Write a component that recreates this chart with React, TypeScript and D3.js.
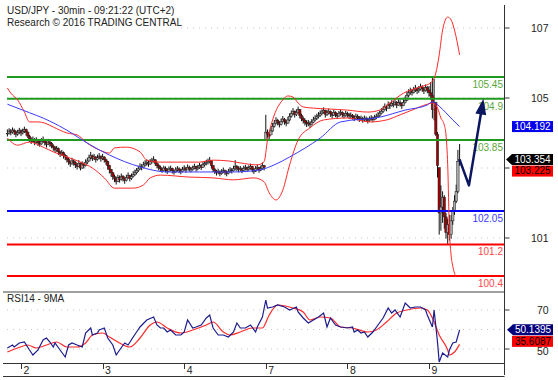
import React from 'react';
import * as d3 from 'd3';

// ---------- DATA ----------
const titleLines = ['USD/JPY - 30min - 09:21:22 (UTC+2)', 'Research \u00a9 2016 TRADING CENTRAL'];
const rsiTitle = 'RSI14 - 9MA';

const dayLabels = ['2', '3', '4', '7', '8', '9'];
const dayStartIdx = [8, 56, 104, 152, 200, 248];

// 30-min bars
const closes = [
  104.02, 104.08, 104.05, 104.10, 104.06, 104.00, 104.04, 104.09, 104.03, 104.07, 104.12, 104.05,
  103.95, 103.88, 103.82, 103.86, 103.80,
  103.84, 103.78, 103.75, 103.82, 103.86, 103.79, 103.74, 103.80, 103.76,
  103.70, 103.66, 103.60, 103.63, 103.55, 103.50, 103.53, 103.46, 103.42,
  103.36, 103.30, 103.25, 103.32, 103.28, 103.22, 103.18, 103.26, 103.14, 103.24, 103.20, 103.28,
  103.32, 103.40, 103.45, 103.38, 103.42, 103.36, 103.40, 103.44, 103.38, 103.42, 103.35, 103.30,
  103.20, 103.10, 103.02, 102.92, 102.88, 102.80,
  102.90, 102.85, 102.93, 102.88, 102.82, 102.90, 102.95, 102.88, 102.93, 102.98, 103.02,
  103.08, 103.12, 103.18, 103.15, 103.22, 103.26,
  103.28, 103.24, 103.30, 103.32, 103.35, 103.26, 103.20, 103.16,
  103.12, 103.08, 103.14, 103.10, 103.06, 103.11, 103.13, 103.07, 103.04, 103.09, 103.12, 103.08, 103.05, 103.10, 103.14, 103.09, 103.16, 103.12,
  103.10, 103.14, 103.18, 103.12, 103.15, 103.20, 103.16, 103.22, 103.25, 103.28, 103.30, 103.33, 103.20,
  103.10, 103.06, 103.02, 103.05, 103.00, 103.04, 103.08, 103.03, 103.00, 103.05, 103.09, 103.07, 103.12, 103.18, 103.14,
  103.10, 103.12, 103.08, 103.13, 103.15, 103.11, 103.14, 103.18, 103.10, 103.06, 103.12, 103.16, 103.09, 103.13, 103.20, 103.16,
  104.05, 104.00, 103.95, 104.08,
  104.20, 104.28, 104.35, 104.30, 104.25, 104.32, 104.38, 104.33, 104.28, 104.36,
  104.45, 104.52, 104.58, 104.50, 104.55, 104.62,
  104.48, 104.40, 104.35, 104.30, 104.26, 104.28, 104.24, 104.30, 104.36, 104.40, 104.44, 104.48,
  104.52, 104.56, 104.60, 104.50, 104.54, 104.58, 104.52, 104.48, 104.55, 104.50, 104.46, 104.52, 104.55, 104.50, 104.47, 104.52,
  104.50, 104.46, 104.48, 104.44, 104.40, 104.45, 104.42, 104.38, 104.40, 104.36, 104.40, 104.38, 104.34, 104.38, 104.41, 104.37, 104.42, 104.45, 104.48,
  104.52, 104.58, 104.62, 104.70, 104.66, 104.75, 104.72, 104.78, 104.76, 104.80,
  104.74, 104.80, 104.78, 104.72, 104.80, 104.86,
  104.98, 105.05, 105.10, 105.06, 105.12, 105.16, 105.10, 105.14, 105.20, 105.15, 105.10, 105.18, 105.12,
  105.05, 104.98, 104.62, 104.80, 104.00, 103.20, 102.00, 102.15, 102.40, 101.90, 101.50, 101.70, 101.45, 101.80, 102.05, 102.30, 102.55, 103.30, 103.354,
];
const highs = [
  104.12, 104.15, 104.13, 104.17, 104.14, 104.09, 104.11, 104.16, 104.12, 104.14, 104.19, 104.14,
  104.07, 103.98, 103.92, 103.94, 103.90,
  103.92, 103.88, 103.83, 103.90, 103.94, 103.88, 103.82, 103.88, 103.84,
  103.80, 103.74, 103.70, 103.70, 103.66, 103.58, 103.60, 103.56, 103.50,
  103.46, 103.40, 103.33, 103.40, 103.36, 103.31, 103.26, 103.34, 103.28, 103.31, 103.28, 103.36,
  103.40, 103.48, 103.55, 103.48, 103.50, 103.44, 103.48, 103.52, 103.46, 103.50, 103.44, 103.38,
  103.32, 103.22, 103.12, 103.04, 102.97, 102.92,
  102.97, 102.95, 103.00, 102.96, 102.90, 102.97, 103.03, 102.97, 103.00, 103.06, 103.10,
  103.14, 103.20, 103.26, 103.24, 103.30, 103.34,
  103.36, 103.33, 103.37, 103.40, 103.44, 103.36, 103.30, 103.24,
  103.20, 103.15, 103.20, 103.18, 103.14, 103.18, 103.20, 103.15, 103.10, 103.16, 103.19, 103.16, 103.12, 103.17, 103.21, 103.17, 103.23, 103.20,
  103.17, 103.20, 103.25, 103.20, 103.22, 103.27, 103.24, 103.29, 103.32, 103.35, 103.38, 103.42, 103.34,
  103.22, 103.14, 103.09, 103.12, 103.08, 103.11, 103.15, 103.10, 103.07, 103.12, 103.16, 103.14, 103.20, 103.34, 103.22,
  103.18, 103.19, 103.15, 103.20, 103.22, 103.18, 103.21, 103.25, 103.20, 103.14, 103.19, 103.23, 103.17, 103.20, 103.28, 103.22,
  104.49, 104.12, 104.05, 104.17,
  104.28, 104.36, 104.43, 104.39, 104.33, 104.40, 104.46, 104.41, 104.36, 104.44,
  104.53, 104.60, 104.66, 104.60, 104.63, 104.70,
  104.64, 104.52, 104.45, 104.40, 104.35, 104.36, 104.33, 104.38, 104.44, 104.48, 104.52, 104.56,
  104.60, 104.63, 104.68, 104.62, 104.61, 104.65, 104.60, 104.56, 104.62, 104.58, 104.54, 104.59, 104.62, 104.58, 104.54, 104.59,
  104.57, 104.54, 104.55, 104.51, 104.48, 104.52, 104.50, 104.46, 104.47, 104.44, 104.47, 104.45, 104.42, 104.45, 104.48, 104.45, 104.49, 104.52, 104.56,
  104.60, 104.66, 104.70, 104.78, 104.74, 104.83, 104.80, 104.86, 104.84, 104.88,
  104.84, 104.88, 104.86, 104.80, 104.88, 104.96,
  105.08, 105.14, 105.18, 105.15, 105.20, 105.25, 105.19, 105.22, 105.28, 105.24, 105.18, 105.26, 105.22,
  105.22, 105.32, 105.45, 105.40, 104.82, 104.05, 103.15, 102.70, 102.55, 102.45, 102.00, 101.85, 101.95, 101.95, 102.15, 102.45, 102.72, 103.60, 103.75,
];
const lows = [
  103.94, 103.99, 103.97, 104.01, 103.98, 103.92, 103.96, 104.00, 103.95, 103.99, 104.03, 103.96,
  103.90, 103.80, 103.75, 103.78, 103.72,
  103.76, 103.70, 103.68, 103.73, 103.78, 103.71, 103.66, 103.72, 103.68,
  103.64, 103.58, 103.52, 103.55, 103.47, 103.42, 103.45, 103.38, 103.34,
  103.28, 103.22, 103.17, 103.22, 103.20, 103.14, 103.10, 103.16, 103.08, 103.12, 103.13, 103.18,
  103.24, 103.30, 103.36, 103.32, 103.34, 103.28, 103.33, 103.36, 103.30, 103.34, 103.28, 103.22,
  103.10, 103.00, 102.92, 102.84, 102.78, 102.72,
  102.78, 102.77, 102.82, 102.80, 102.74, 102.80, 102.87, 102.80, 102.84, 102.90, 102.94,
  102.98, 103.04, 103.09, 103.08, 103.13, 103.18,
  103.20, 103.17, 103.22, 103.25, 103.28, 103.19, 103.13, 103.08,
  103.05, 103.02, 103.06, 103.03, 102.99, 103.04, 103.06, 103.00, 102.97, 103.02, 103.05, 103.01, 102.98, 103.03, 103.07, 103.02, 103.09, 103.05,
  103.03, 103.07, 103.11, 103.05, 103.08, 103.12, 103.09, 103.14, 103.18, 103.21, 103.23, 103.26, 103.13,
  103.04, 102.99, 102.95, 102.98, 102.93, 102.97, 103.01, 102.96, 102.93, 102.98, 103.02, 103.00, 103.05, 103.08, 103.06,
  103.03, 103.05, 103.01, 103.06, 103.08, 103.04, 103.07, 103.10, 103.03, 102.99, 103.04, 103.09, 103.02, 103.06, 103.10, 103.08,
  103.85, 103.90, 103.86, 103.98,
  104.06, 104.17, 104.25, 104.22, 104.17, 104.22, 104.29, 104.24, 104.20, 104.26,
  104.33, 104.42, 104.48, 104.42, 104.46, 104.52,
  104.40, 104.33, 104.27, 104.22, 104.18, 104.20, 104.16, 104.22, 104.28, 104.32, 104.36, 104.40,
  104.44, 104.48, 104.52, 104.42, 104.46, 104.50, 104.44, 104.40, 104.46, 104.43, 104.39, 104.44, 104.47, 104.42, 104.40, 104.44,
  104.42, 104.39, 104.40, 104.37, 104.33, 104.37, 104.35, 104.31, 104.33, 104.29, 104.33, 104.31, 104.27, 104.31, 104.34, 104.30, 104.35, 104.38, 104.41,
  104.44, 104.50, 104.54, 104.60, 104.58, 104.65, 104.64, 104.70, 104.68, 104.72,
  104.66, 104.72, 104.70, 104.64, 104.71, 104.78,
  104.84, 104.94, 105.00, 104.98, 105.03, 105.07, 105.02, 105.05, 105.11, 105.07, 105.02, 105.08, 105.04,
  104.95, 104.88, 104.40, 104.35, 103.95, 102.90, 101.45, 101.55, 101.75, 101.60, 101.35, 101.20, 101.30, 101.35, 101.70, 101.95, 102.25, 102.50, 103.20,
];

// Bollinger bands and 50-bar moving average, [bar index, price]
const bbUpper: [number, number][] = [
  [0, 105.17], [2, 105.04], [6, 104.87], [10, 104.56], [13, 104.31], [18, 104.31], [22, 104.28], [27, 104.18],
  [35, 104.03], [41, 103.98], [47, 103.77], [54, 103.60], [60, 103.52], [63, 103.65], [70, 103.67], [78, 103.55],
  [82, 103.34], [90, 103.29], [100, 103.29], [113, 103.29], [121, 103.34], [130, 103.32], [137, 103.27], [147, 103.22],
  [151, 103.30], [153, 103.85], [156, 104.36], [162, 104.87], [165, 104.97], [168, 104.94], [171, 104.79], [174, 104.69],
  [180, 104.66], [188, 104.64], [200, 104.61], [212, 104.56], [219, 104.61], [225, 104.79], [233, 105.04], [243, 105.20],
  [249, 105.30], [252, 105.55], [254, 106.01], [256, 106.64], [259, 106.97], [261, 106.90], [263, 106.64], [266, 106.01],
];
const bbLower: [number, number][] = [
  [0, 103.90], [6, 103.72], [13, 103.80], [21, 103.67], [27, 103.55], [35, 103.42], [43, 103.29], [50, 103.14],
  [57, 102.89], [63, 102.63], [74, 102.63], [80, 102.71], [84, 102.89], [90, 102.96], [107, 102.91], [121, 102.89],
  [133, 102.84], [145, 102.89], [151, 102.79], [154, 102.51], [158, 102.33], [162, 102.58], [166, 103.22], [171, 103.85],
  [178, 104.16], [186, 104.36], [200, 104.41], [213, 104.31], [223, 104.36], [231, 104.49], [238, 104.61], [247, 104.76],
  [250, 104.79], [253, 104.66], [255, 104.41], [257, 104.23], [258, 103.98], [259, 103.22], [260, 101.57], [261, 100.93],
  [262, 100.65], [263, 100.47], [264, 100.37],
];
const ma50: [number, number][] = [
  [0, 104.76], [9, 104.61], [25, 104.33], [35, 104.10], [43, 103.88], [54, 103.60], [60, 103.47], [78, 103.17],
  [94, 103.04], [113, 103.04], [133, 103.04], [148, 103.09], [158, 103.24], [166, 103.42], [184, 103.90], [196, 104.31],
  [219, 104.43], [234, 104.61], [247, 104.74], [250, 104.82], [254, 104.71], [258, 104.54], [262, 104.36], [266, 104.192],
];

// RSI(14) and its 9-period MA, [bar index, value]
const rsi14: [number, number][] = [
  [0, 32], [3, 35], [4, 33], [7, 37], [10, 38], [13, 30], [15, 25], [18, 30], [21, 40], [23, 42], [25, 38], [27, 33],
  [28, 37], [31, 30], [34, 23], [36, 35], [38, 37], [41, 35], [44, 33], [46, 47], [49, 52], [50, 45], [53, 47], [54, 50],
  [57, 52], [59, 42], [62, 35], [64, 25], [66, 30], [69, 37], [71, 35], [74, 43], [76, 48], [78, 53], [82, 60], [86, 63],
  [88, 55], [90, 52], [92, 52], [94, 48], [96, 50], [99, 45], [102, 45], [104, 48], [106, 60], [109, 52], [111, 53], [114, 55],
  [117, 62], [119, 65], [121, 52], [124, 45], [127, 45], [130, 43], [133, 48], [135, 57], [137, 52], [140, 52], [143, 55],
  [146, 48], [147, 53], [150, 63], [152, 80], [153, 72], [156, 73], [159, 75], [163, 73], [166, 70], [170, 73], [171, 68],
  [174, 62], [177, 57], [180, 60], [183, 63], [186, 67], [188, 53], [190, 62], [193, 55], [196, 53], [200, 52], [203, 53],
  [204, 48], [206, 50], [208, 47], [210, 48], [212, 43], [215, 48], [218, 55], [221, 62], [224, 72], [226, 67], [228, 70],
  [231, 63], [234, 77], [237, 72], [240, 73], [243, 73], [246, 70], [247, 65], [250, 53], [251, 70], [253, 38], [254, 18],
  [256, 27], [259, 23], [260, 30], [262, 37], [264, 38], [266, 50.1395],
];
const rsiMa9: [number, number][] = [
  [0, 28], [6, 32], [12, 35], [17, 32], [23, 35], [29, 38], [35, 33], [41, 33], [46, 37], [50, 45], [56, 47], [60, 43],
  [66, 37], [72, 33], [78, 42], [84, 55], [88, 58], [94, 52], [102, 47], [109, 50], [117, 55], [121, 58], [127, 48],
  [131, 45], [137, 48], [144, 52], [150, 52], [154, 65], [159, 75], [168, 72], [174, 68], [178, 60], [184, 63], [190, 62],
  [196, 53], [203, 52], [212, 48], [217, 50], [223, 58], [229, 67], [235, 70], [243, 72], [247, 70], [250, 62], [254, 45],
  [259, 30], [260, 25], [263, 28], [266, 35.6087],
];

// Key levels
const levelValues = [105.45, 104.9, 103.85, 102.05, 101.2, 100.4];
const levelLabels = ['105.45', '104.9', '103.85', '102.05', '101.2', '100.4'];
const levelKinds = ['res', 'res', 'res', 'pivot', 'sup', 'sup'];

// Scenario arrow [bar index, price]
const arrowPath: [number, number][] = [[266, 103.354], [271.5, 102.7], [280, 104.9]];

// Axis ticks
const priceTicks = [101, 103, 105, 107];
const rsiTicks = [50, 70];
const rsiGrid = [50, 60, 70];

// Value tags
const priceTagValues = [104.192, 103.354, 103.225];
const priceTagLabels = ['104.192', '103.354', '103.225'];
const rsiTagValues = [50.1395, 35.6087];
const rsiTagLabels = ['50.1395', '35.6087'];

// ---------- CHART ----------
const FONT = '"Liberation Sans", Arial, sans-serif';

const levelLine: Record<string, string> = { res: '#1f9a1f', pivot: '#0000ff', sup: '#ff0000' };
const levelText: Record<string, string> = { res: '#5aa83c', pivot: '#3c3cff', sup: '#ff4848' };

export default function App() {
  const W = 558, H = 380;
  const plotL = 7, axisX = 504.5;

  const x = d3.scaleLinear().domain([0, 266]).range([7.4, 459.6]);
  const y = d3.scaleLinear().domain([100.4, 105.45]).range([276, 77]);
  const yAxis = d3.scaleLinear().domain([101, 107]).range([238, 28]);
  const yR = d3.scaleLinear().domain([20, 70]).range([360, 310]);
  const yRAxis = d3.scaleLinear().domain([50, 70]).range([349, 310]);

  const curveLine = d3.line<[number, number]>().x(d => x(d[0])).y(d => y(d[1])).curve(d3.curveMonotoneX);
  const rsiLine = d3.line<[number, number]>().x(d => x(d[0])).y(d => yR(d[1]));
  const rsiMaLine = d3.line<[number, number]>().x(d => x(d[0])).y(d => yR(d[1])).curve(d3.curveMonotoneX);
  const pixLine = d3.line<[number, number]>();

  // arrow head geometry
  const n = arrowPath.length;
  const tipX = x(arrowPath[n - 1][0]), tipY = y(arrowPath[n - 1][1]);
  const prvX = x(arrowPath[n - 2][0]), prvY = y(arrowPath[n - 2][1]);
  const len = Math.hypot(tipX - prvX, tipY - prvY);
  const ux = (tipX - prvX) / len, uy = (tipY - prvY) / len;
  const headL = 16, headW = 5.5;
  const bx = tipX - ux * headL, by = tipY - uy * headL;
  const shaftPts: [number, number][] = arrowPath.slice(0, n - 1).map(d => [x(d[0]), y(d[1])] as [number, number]);
  shaftPts.push([bx + ux * 2, by + uy * 2]);
  const head = `M${tipX},${tipY}L${bx - uy * headW},${by + ux * headW}L${bx + uy * headW},${by - ux * headW}Z`;

  // tags
  const tagH = 11;
  const stackOverlap = (vals: number[], sc: (v: number) => number) => {
    let prevBottom = -Infinity;
    return vals.map(v => {
      let top = sc(v) - tagH / 2;
      if (top < prevBottom) top = prevBottom + 0.5;
      prevBottom = top + tagH;
      return top;
    });
  };
  const stackTight = (vals: number[], sc: (v: number) => number) => {
    const first = sc(vals[0]) - tagH / 2;
    return vals.map((_, i) => first + i * (tagH + 0.5));
  };
  const priceTagTops = stackOverlap(priceTagValues, y);
  const rsiTagTops = stackTight(rsiTagValues, yR);

  // axis labels hidden where the tags cover them (as in the reference)
  const priceLabelVisible = (t: number) =>
    priceTagTops.every(top => yAxis(t) + 4 < top || yAxis(t) - 4 > top + tagH);
  const rsiBottom = rsiTagTops[rsiTagTops.length - 1] + tagH;
  const rsiLabelY = (t: number) => {
    const base = yRAxis(t) + 3.5;
    const coveredTop = rsiTagTops.some(top => base > top && base - 8 < top + tagH);
    return coveredTop ? rsiBottom + 8.5 : base;
  };

  const bw = 2.4;

  return (
    <svg width={W} height={H} style={{ position: 'absolute', left: 0, top: 0, background: '#fff' }} fontFamily={FONT}>
      <rect x={0} y={0} width={W} height={H} fill="#fff" />

      {/* price grid */}
      {priceTicks.map(t => (
        <line key={'g' + t} x1={plotL} x2={axisX} y1={yAxis(t)} y2={yAxis(t)} stroke="#c4c4c4" strokeDasharray="1 5" />
      ))}

      {/* candles */}
      {closes.map((c, i) => {
        const hi = Math.max(highs[i], c);
        const lo = Math.min(lows[i], c);
        const prev = i === 0 ? c : closes[i - 1];
        const o = Math.min(Math.max(prev, lo), hi);
        const cx = x(i);
        const up = c >= o;
        const top = y(Math.max(o, c)), bot = y(Math.min(o, c));
        return (
          <g key={'c' + i}>
            <line x1={cx} x2={cx} y1={y(hi)} y2={y(lo)} stroke="#111" strokeWidth={1} />
            <rect x={cx - bw / 2} y={top} width={bw} height={Math.max(bot - top, 0.6)}
              fill={up ? '#a8a8a8' : '#a00000'} stroke="#222" strokeWidth={0.5} />
          </g>
        );
      })}

      {/* key levels */}
      {levelValues.map((v, i) => (
        <g key={'l' + i}>
          <line x1={plotL} x2={axisX} y1={y(v)} y2={y(v)} stroke={levelLine[levelKinds[i]]} strokeWidth={2} />
          <text x={503} y={y(v) + 11} textAnchor="end" fontSize={10} fill={levelText[levelKinds[i]]}>{levelLabels[i]}</text>
        </g>
      ))}

      {/* bands & MA */}
      <path d={curveLine(bbUpper) || ''} fill="none" stroke="#ff2a2a" strokeWidth={1} />
      <path d={curveLine(bbLower) || ''} fill="none" stroke="#ff2a2a" strokeWidth={1} />
      <path d={curveLine(ma50) || ''} fill="none" stroke="#3b3bff" strokeWidth={1} />

      {/* scenario arrow */}
      <path d={pixLine(shaftPts) || ''} fill="none" stroke="#0c1660" strokeWidth={2.5} strokeLinejoin="round" />
      <path d={head} fill="#0c1660" />

      {/* title */}
      <rect x={0} y={0} width={178} height={30} fill="#fff" />
      <text x={7} y={14} fontSize={10} fill="#222">{titleLines[0]}</text>
      <text x={7} y={26} fontSize={10} fill="#222">{titleLines[1]}</text>

      {/* right price axis */}
      {priceTicks.map(t => (
        <g key={'t' + t}>
          <line x1={axisX} x2={axisX + 5} y1={yAxis(t)} y2={yAxis(t)} stroke="#333" />
          {priceLabelVisible(t) && <text x={531} y={yAxis(t) + 3.5} fontSize={10.5} fill="#222">{t}</text>}
        </g>
      ))}

      {/* price tags */}
      {priceTagValues.map((v, i) => {
        const top = priceTagTops[i];
        const fills = ['#0000ee', '#000000', '#ff0000'];
        const txt = ['#ffffff', '#ffffff', '#000000'];
        const shape = i === 1
          ? <path d={`M506,${top + tagH / 2}L512,${top}L553,${top}L553,${top + tagH}L512,${top + tagH}Z`} fill={fills[i]} />
          : <rect x={512} y={top} width={41} height={tagH} fill={fills[i]} />;
        return (
          <g key={'pt' + i}>
            {shape}
            <text x={532.5} y={top + 8.8} textAnchor="middle" fontSize={10} fill={txt[i]}>{priceTagLabels[i]}</text>
          </g>
        );
      })}

      {/* RSI panel */}
      <line x1={3} x2={axisX} y1={292} y2={292} stroke="#808080" strokeWidth={1.5} />
      <text x={7} y={302} fontSize={10} fill="#222">{rsiTitle}</text>
      {rsiGrid.map(t => (
        <line key={'rg' + t} x1={plotL} x2={axisX} y1={yRAxis(t)} y2={yRAxis(t)} stroke="#c4c4c4" strokeDasharray="1 5" />
      ))}
      <path d={rsiMaLine(rsiMa9) || ''} fill="none" stroke="#ff2a2a" strokeWidth={1.2} />
      <path d={rsiLine(rsi14) || ''} fill="none" stroke="#1c1c8c" strokeWidth={1.2} />
      {rsiTicks.map(t => (
        <g key={'rt' + t}>
          <line x1={axisX} x2={axisX + 5} y1={yRAxis(t)} y2={yRAxis(t)} stroke="#333" />
          <text x={537} y={rsiLabelY(t)} fontSize={10.5} fill="#222">{t}</text>
        </g>
      ))}
      {rsiTagValues.map((v, i) => {
        const top = rsiTagTops[i];
        return (
          <g key={'rtag' + i}>
            {i === 0
              ? <path d={`M507,${top + tagH / 2}L513,${top}L553,${top}L553,${top + tagH}L513,${top + tagH}Z`} fill="#00007a" />
              : <rect x={512} y={top} width={41} height={tagH} fill="#ff0000" />}
            <text x={533} y={top + 8.8} textAnchor="middle" fontSize={10} fill={i === 0 ? '#fff' : '#000'}>{rsiTagLabels[i]}</text>
          </g>
        );
      })}

      {/* time axis */}
      <line x1={3} x2={axisX} y1={363.5} y2={363.5} stroke="#333" />
      <line x1={3} x2={axisX} y1={376.5} y2={376.5} stroke="#333" />
      {dayStartIdx.map((d, i) => (
        <g key={'d' + i}>
          <line x1={Math.round(x(d)) + 0.5} x2={Math.round(x(d)) + 0.5} y1={364} y2={369} stroke="#333" />
          <text x={x(d) + 2.5} y={374} fontSize={10.5} fill="#222">{dayLabels[i]}</text>
        </g>
      ))}

      {/* right axis line */}
      <line x1={axisX} x2={axisX} y1={5} y2={375} stroke="#333" />
    </svg>
  );
}
